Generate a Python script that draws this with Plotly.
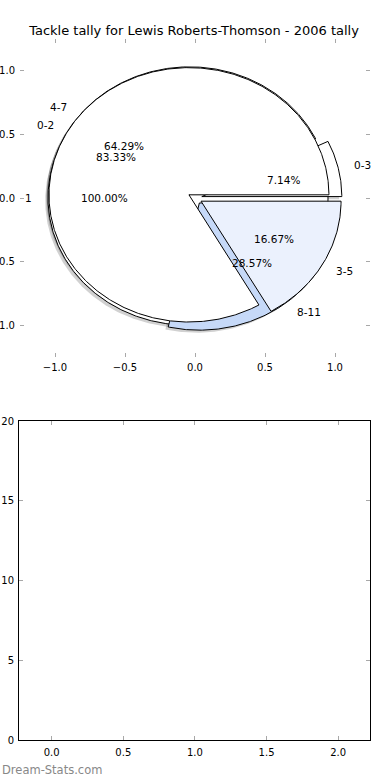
import numpy as np
import plotly.graph_objects as go

title_text = "Tackle tally for Lewis Roberts-Thomson - 2006 tally"
watermark = "Dream-Stats.com"

# three pies drawn on the same axes (in drawing order)
pie_a_labels = ["1"]
pie_a_values = [1]
pie_a_colors = ["#FFFFFF"]

pie_c_labels = ["0-3", "4-7", "8-11"]
pie_c_values = [1, 9, 4]
pie_c_colors = ["#FFFFFF", "#FFFFFF", "#C6D9F8"]

pie_b_labels = ["0-2", "3-5"]
pie_b_values = [5, 1]
pie_b_colors = ["#FFFFFF", "#EBF1FD"]

pie_ticks = [-1.0, -0.5, 0.0, 0.5, 1.0]
pie_tick_text = ["\u22121.0", "\u22120.5", "0.0", "0.5", "1.0"]

empty_xticks = [0.0, 0.5, 1.0, 1.5, 2.0]
empty_xtick_text = ["0.0", "0.5", "1.0", "1.5", "2.0"]
empty_yticks = [0, 5, 10, 15, 20]

EXPLODE = 0.05
LABEL_DIST = 1.1
PCT_DIST = 0.6
SHADOW = (-0.02, -0.02)
PIE_LIM = 1.25

FONT = "DejaVu Sans"
W, H = 390, 780

pies = [
    (pie_a_labels, pie_a_values, pie_a_colors),
    (pie_c_labels, pie_c_values, pie_c_colors),
    (pie_b_labels, pie_b_values, pie_b_colors),
]


def wedge(t1, t2, cx, cy):
    n = max(int(abs(t2 - t1) * 2), 8)
    th = np.radians(np.linspace(t1, t2, n))
    xs = cx + np.cos(th)
    ys = cy + np.sin(th)
    if abs((t2 - t1) - 360) < 1e-9:
        return list(xs), list(ys)
    return [cx] + list(xs) + [cx], [cy] + list(ys) + [cy]


wedges = []
annotations = []
for labels, values, colors in pies:
    total = float(sum(values))
    start = 0.0
    for lab, v, col in zip(labels, values, colors):
        frac = v / total
        t1, t2 = 360 * start, 360 * (start + frac)
        mid = np.radians((t1 + t2) / 2)
        cx, cy = EXPLODE * np.cos(mid), EXPLODE * np.sin(mid)
        wedges.append((t1, t2, cx, cy, col))
        lx = cx + LABEL_DIST * np.cos(mid)
        ly = cy + LABEL_DIST * np.sin(mid)
        annotations.append(dict(x=lx, y=ly, xref="x", yref="y", text=lab, showarrow=False,
                                xanchor="left" if lx > 0 else "right", yanchor="middle",
                                font=dict(family=FONT, size=10.5, color="black")))
        px = cx + PCT_DIST * np.cos(mid)
        py = cy + PCT_DIST * np.sin(mid)
        annotations.append(dict(x=px, y=py, xref="x", yref="y", text="%.2f%%" % (100 * frac),
                                showarrow=False, xanchor="center", yanchor="middle",
                                font=dict(family=FONT, size=10.5, color="black")))
        start += frac

fig = go.Figure()
# shadows first (lower z-order)
for t1, t2, cx, cy, col in wedges:
    xs, ys = wedge(t1, t2, cx + SHADOW[0], cy + SHADOW[1])
    fig.add_trace(go.Scatter(x=xs, y=ys, mode="lines", fill="toself",
                             fillcolor="rgba(0,0,0,0.18)", line=dict(width=0, color="rgba(0,0,0,0)"),
                             hoverinfo="skip", showlegend=False, xaxis="x", yaxis="y"))
for t1, t2, cx, cy, col in wedges:
    xs, ys = wedge(t1, t2, cx, cy)
    fig.add_trace(go.Scatter(x=xs, y=ys, mode="lines", fill="toself",
                             fillcolor=col, line=dict(width=1, color="black"),
                             hoverinfo="skip", showlegend=False, xaxis="x", yaxis="y"))

# empty lower axes
fig.add_trace(go.Scatter(x=[], y=[], xaxis="x2", yaxis="y2", showlegend=False))

annotations.append(dict(x=0.0, y=1 - 770 / H, xref="paper", yref="paper", text=watermark,
                        showarrow=False, xanchor="left", yanchor="middle",
                        font=dict(family=FONT, size=11.5, color="#888888")))

tick_font = dict(family=FONT, size=10, color="black")
common = dict(showgrid=False, zeroline=False, ticks="inside", ticklen=4, tickwidth=1,
              tickcolor="#a8a8a8", tickfont=tick_font, mirror="ticks", automargin=False)

fig.update_layout(
    width=W, height=H, margin=dict(l=0, r=0, t=0, b=0, autoexpand=False),
    paper_bgcolor="white", plot_bgcolor="white",
    title=dict(text=title_text, x=194 / W, xanchor="center", y=1 - 30 / H, yanchor="middle",
               font=dict(family=FONT, size=13, color="black"), automargin=False),
    xaxis=dict(domain=[20 / W, 370 / W], range=[-PIE_LIM, PIE_LIM], anchor="y",
               tickvals=pie_ticks, ticktext=pie_tick_text, showline=False,
               ticklabelstandoff=3, **common),
    yaxis=dict(domain=[1 - 357 / H, 1 - 39 / H], range=[-PIE_LIM, PIE_LIM], anchor="x",
               tickvals=pie_ticks, ticktext=pie_tick_text, showline=False,
               ticklabelstandoff=4, **common),
    xaxis2=dict(domain=[19 / W, 370 / W], range=[-0.228, 2.222], anchor="y2",
                tickvals=empty_xticks, ticktext=empty_xtick_text, ticklabelstandoff=3,
                showline=True, linecolor="black", linewidth=1, **common),
    yaxis2=dict(domain=[1 - 740 / H, 1 - 421 / H], range=[0, 20], anchor="x2",
                tickvals=empty_yticks, ticklabelstandoff=2,
                showline=True, linecolor="black", linewidth=1, **common),
    annotations=annotations,
)

fig.write_html("out.html", config={"displayModeBar": False},
               post_script="document.body.style.margin='0px';document.body.style.overflow='hidden';")
